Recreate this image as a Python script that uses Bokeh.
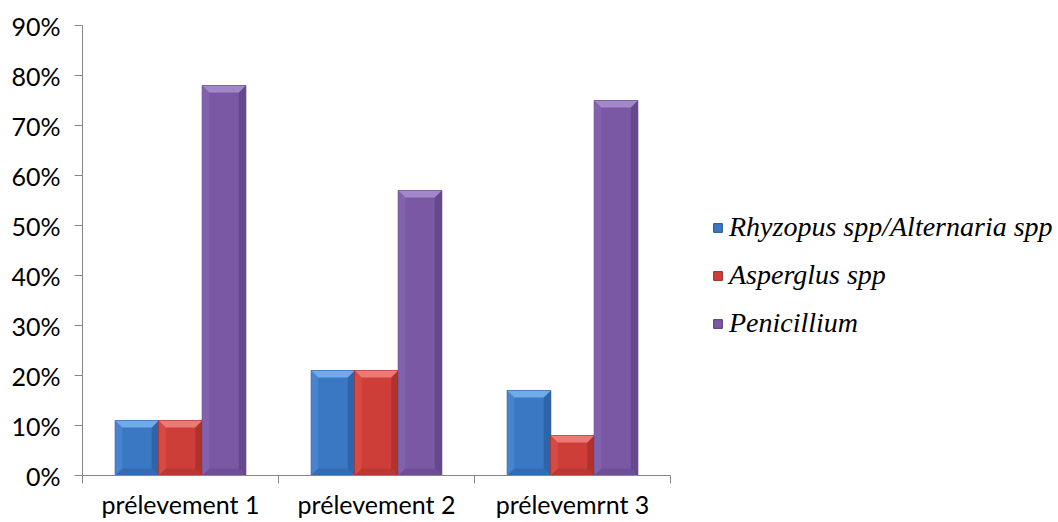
from bokeh.plotting import figure
from bokeh.models import Range1d, FixedTicker, Legend, LegendItem, NumeralTickFormatter
from bokeh.embed import file_html
from bokeh.resources import INLINE

categories = ["prélevement 1", "prélevement 2", "prélevemrnt 3"]
series_names = ["Rhyzopus spp/Alternaria spp", "Asperglus spp", "Penicillium"]
rhyzopus = [0.11, 0.21, 0.17]
aspergillus = [0.11, 0.21, 0.08]
penicillium = [0.78, 0.57, 0.75]
y_ticks = [0.0, 0.1, 0.2, 0.3, 0.4, 0.5, 0.6, 0.7, 0.8, 0.9]

series = [rhyzopus, aspergillus, penicillium]
# colours: (mid, top, left, right, bottom, outline)
palettes = [
    ("#3B78C4", "#6FAAE9", "#4783CE", "#2F65A8", "#336CB2", "#2B5592"),
    ("#CE3E38", "#EC7A74", "#D64A44", "#B0322D", "#BC3731", "#9E2B27"),
    ("#7A58A4", "#A287CB", "#8262AC", "#66488C", "#6E4F97", "#583E7C"),
]

W, H = 1058, 522
left, top, bottom = 82, 25, 47
plot_w = 588  # pixel width of the 3 category groups
p = figure(width=W, height=H, output_backend="svg", toolbar_location=None,
           x_range=Range1d(0, 3.0 * (W - left) / plot_w), y_range=Range1d(0, 0.9),
           min_border_left=left, min_border_right=0,
           min_border_top=top, min_border_bottom=bottom)
p.outline_line_color = None
p.grid.grid_line_color = None
p.background_fill_color = "white"

fh = H - top - bottom
px_x = 3.0 / plot_w
px_y = 0.9 / fh

bw = 0.222
offsets = [-bw, 0.0, bw]
bev = 7

renderers = []
for si, (vals, pal) in enumerate(zip(series, palettes)):
    mid, topc, lc, rc, bc, oc = pal
    xs_c = [i + 0.5 + offsets[si] for i in range(len(vals))]
    r = p.vbar(x=xs_c, top=vals, width=bw, bottom=0, fill_color=mid,
               line_color=oc, line_width=1)
    renderers.append(r)
    bx = bev * px_x
    by = bev * px_y
    top_x, top_y, l_x, l_y, r_x, r_y, b_x, b_y = [], [], [], [], [], [], [], []
    for xc, v in zip(xs_c, vals):
        x0, x1 = xc - bw / 2, xc + bw / 2
        top_x.append([x0, x1, x1 - bx, x0 + bx]); top_y.append([v, v, v - by, v - by])
        l_x.append([x0, x0 + bx, x0 + bx, x0]); l_y.append([v, v - by, by, 0])
        r_x.append([x1, x1 - bx, x1 - bx, x1]); r_y.append([v, v - by, by, 0])
        b_x.append([x0, x0 + bx, x1 - bx, x1]); b_y.append([0, by, by, 0])
    p.patches(l_x, l_y, fill_color=lc, line_color=None)
    p.patches(r_x, r_y, fill_color=rc, line_color=None)
    p.patches(b_x, b_y, fill_color=bc, line_color=None)
    p.patches(top_x, top_y, fill_color=topc, line_color=None)

# axes
ax = p.xaxis[0]
ax.bounds = (0, 3)
ax.ticker = FixedTicker(ticks=[i + 0.5 for i in range(len(categories))],
                        minor_ticks=list(range(len(categories) + 1)))
ax.major_label_overrides = {i + 0.5: c for i, c in enumerate(categories)}
ax.major_tick_out = 0
ax.major_tick_in = 0
ax.minor_tick_out = 8
ax.minor_tick_in = 0
ax.axis_line_color = "#868686"
ax.minor_tick_line_color = "#868686"
ax.major_label_text_font = "Lato"
ax.major_label_text_font_size = "25px"
ax.major_label_text_color = "black"
ax.major_label_standoff = 5

ay = p.yaxis[0]
ay.ticker = FixedTicker(ticks=y_ticks)
ay.formatter = NumeralTickFormatter(format="0%")
ay.major_tick_out = 8
ay.major_tick_in = 0
ay.minor_tick_line_color = None
ay.axis_line_color = "#868686"
ay.major_tick_line_color = "#868686"
ay.major_label_text_font = "Lato"
ay.major_label_text_font_size = "25px"
ay.major_label_text_color = "black"
ay.major_label_standoff = 14

legend = Legend(items=[LegendItem(label=n, renderers=[r]) for n, r in zip(series_names, renderers)],
                location=(630, 136))
legend.label_text_font = "Liberation Serif"
legend.label_text_font_style = "italic"
legend.label_text_font_size = "28px"
legend.label_text_color = "black"
legend.glyph_width = 11
legend.glyph_height = 11
legend.label_standoff = 6
legend.label_height = 30
legend.spacing = 16
legend.padding = 0
legend.margin = 0
legend.border_line_color = None
legend.background_fill_alpha = 0
p.add_layout(legend, "center")

open("out.html", "w").write(file_html(p, INLINE))
